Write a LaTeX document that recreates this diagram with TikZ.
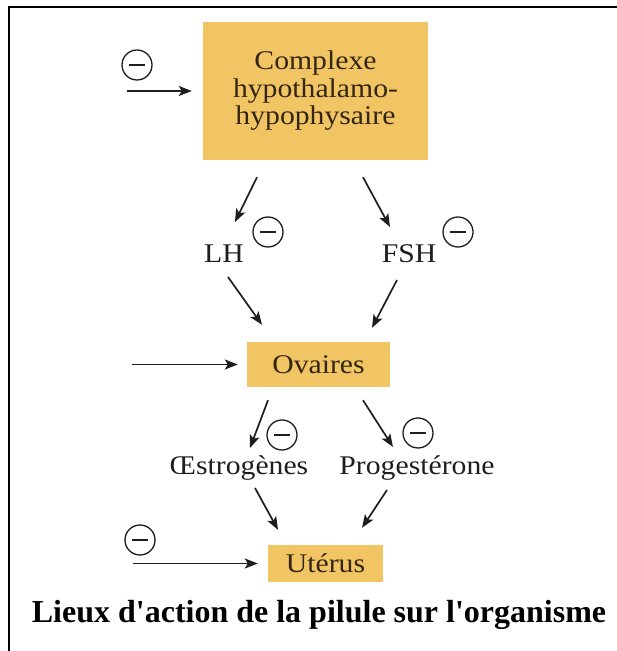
\documentclass[tikz,border=0pt]{standalone}
\usepackage{fontspec}
\setmainfont{Liberation Serif}
\newfontfamily\corps[FakeStretch=1.1]{Liberation Serif}
\usepackage{xcolor}
\usepackage{tikz}
\usetikzlibrary{arrows.meta, calc}

\definecolor{ocre}{RGB}{241,196,100}
\definecolor{brun}{RGB}{52,38,20}
\definecolor{encre}{RGB}{30,30,30}

\begin{document}
\begin{tikzpicture}[
    x=1pt, y=1pt,
    boite/.style={fill=ocre, inner sep=0pt, align=center, text=brun,
                  font=\corps\fontsize{27}{27.5}\selectfont},
    texte/.style={inner sep=0pt, anchor=base, text=encre,
                  font=\corps\fontsize{27}{27.5}\selectfont},
    moins/.style={circle, draw=encre, line width=1.3pt, minimum size=30pt, inner sep=0pt,
                  path picture={\draw[line width=1.3pt, encre]
                      ([xshift=7pt]path picture bounding box.west) --
                      ([xshift=-7pt]path picture bounding box.east);}},
    fleche/.style={-{Stealth[length=13pt, width=10pt, inset=3pt]}, line width=1.7pt, draw=encre},
]
\useasboundingbox (0,0) rectangle (617,651);

% cadre (haut et gauche)
\draw[line width=2.8pt] (9,0) -- (9,644) -- (617,644);

% organes
\node[boite, minimum width=225pt, minimum height=138pt] (hh) at (315.5,560)
    {Complexe\\hypothalamo-\\hypophysaire};
\node[boite, minimum width=143pt, minimum height=45pt] (ov) at (318.5,286.5) {Ovaires};
\node[boite, minimum width=115pt, minimum height=37pt] (ut) at (325.5,87.5) {Utérus};

% hormones
\node[texte] (lh)  at (224,388) {LH};
\node[texte] (fsh) at (409,388) {FSH};
\node[texte] (oe)  at (239,176) {Œstrogènes};
\node[texte] (pg)  at (417,176) {Progestérone};

% sites d'action de la pilule
\node[moins] (m1) at (137,586) {};
\node[moins] (m2) at (268,419) {};
\node[moins] (m3) at (458,419) {};
\node[moins] (m4) at (282,216) {};
\node[moins] (m5) at (418,218) {};
\node[moins] (m6) at (140,111) {};

% entrees de la pilule
\coordinate (e1) at (127,560);
\coordinate (e2) at (132,286.5);
\coordinate (e3) at (133,87.5);
\draw[fleche] (e1) -- ([xshift=-11pt]hh.west);
\draw[fleche] (e2) -- ([xshift=-9pt]ov.west);
\draw[fleche] (e3) -- ([xshift=-10pt]ut.west);

% hh -> LH, FSH
\draw[fleche] ([shift={(-58.5,-17)}]hh.south) -- ([shift={(11,41)}]lh.base);
\draw[fleche] ([shift={(47.5,-17)}]hh.south) -- ([shift={(-19,36)}]fsh.base);

% LH, FSH -> ovaires
\draw[fleche] ([shift={(4,-14)}]lh.base) -- ([shift={(-56.5,17)}]ov.north);
\draw[fleche] ([shift={(-12,-17)}]fsh.base) -- ([shift={(53.5,14)}]ov.north);

% ovaires -> oestrogenes, progesterone
\draw[fleche] ([shift={(-50.5,-13)}]ov.south) -- ([shift={(11,27)}]oe.base);
\draw[fleche] ([shift={(44.5,-13)}]ov.south) -- ([shift={(-24,28)}]pg.base);

% hormones -> uterus
\draw[fleche] ([shift={(16,-13)}]oe.base) -- ([shift={(-47.5,15)}]ut.north);
\draw[fleche] ([shift={(-30,-15)}]pg.base) -- ([shift={(36.5,17)}]ut.north);

% titre
\node[anchor=base, inner sep=0pt, text=black, font=\bfseries\fontsize{32}{36}\selectfont]
    (titre) at (319,28) {Lieux d\textquotesingle action de la pilule sur l\textquotesingle organisme};

\end{tikzpicture}
\end{document}
